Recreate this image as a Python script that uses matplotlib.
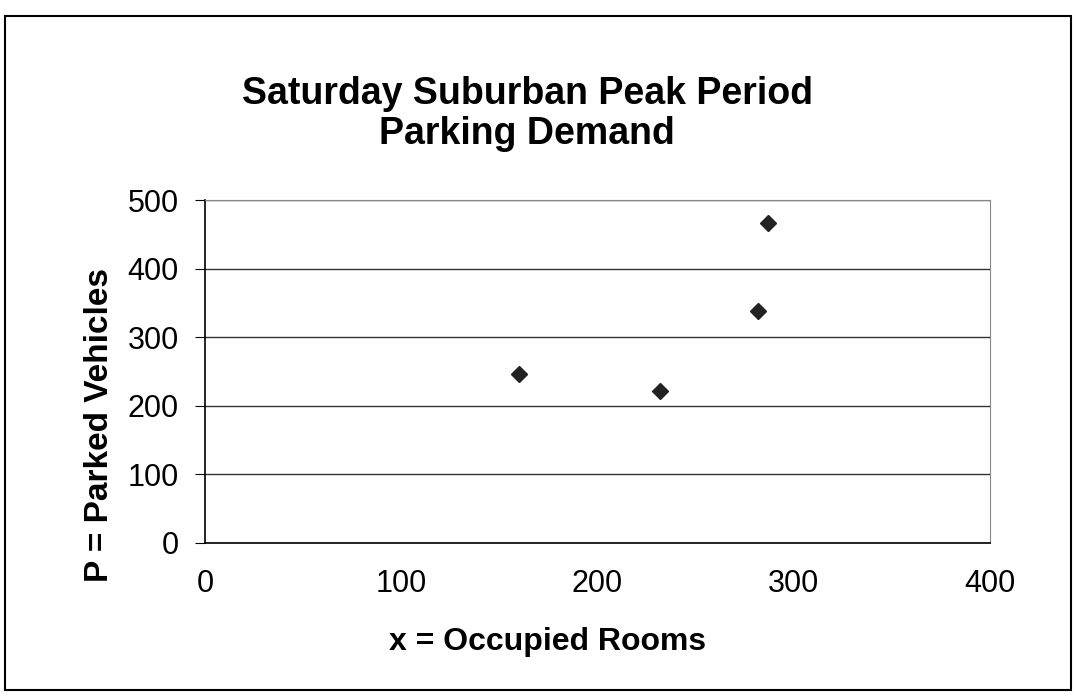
import matplotlib.pyplot as plt
from matplotlib.patches import Rectangle

# occupied rooms vs parked vehicles
rooms = [160, 232, 282, 287]
vehicles = [247, 222, 338, 466]

x_ticks = [0, 100, 200, 300, 400]
y_ticks = [0, 100, 200, 300, 400, 500]

plt.rcParams['font.family'] = ['Liberation Sans', 'DejaVu Sans']

W, H = 1076, 698
fig = plt.figure(figsize=(W / 100, H / 100), dpi=100)
ax = fig.add_axes([205 / W, 1 - 543 / H, (990 - 205) / W, (543 - 200) / H])

ax.plot(rooms, vehicles, "D", color="#222222", markersize=8, clip_on=False)

ax.set_xlim(0, 400)
ax.set_ylim(0, 500)
ax.set_xticks(x_ticks)
ax.set_yticks(y_ticks)
ax.tick_params(axis="x", labelsize=22, pad=19, length=0)
ax.tick_params(axis="y", labelsize=22, pad=12, length=7, direction="out")
ax.grid(axis="y", color="#333333", linewidth=1)
ax.set_axisbelow(True)
for s in ["top", "right"]:
    ax.spines[s].set_color("#888888")
    ax.spines[s].set_linewidth(0.8)
for s in ["left", "bottom"]:
    ax.spines[s].set_color("black")
    ax.spines[s].set_linewidth(1.2)

# axis titles placed like the original Excel chart
fig.text(548 / W, 1 - 642 / H, "x = Occupied Rooms", ha="center", va="center",
         fontsize=23, fontweight="bold")
fig.text(100 / W, 1 - 425 / H, "P = Parked Vehicles", ha="center", va="center",
         rotation=90, fontsize=24, fontweight="bold")
fig.text(527 / W, 1 - 114 / H, "Saturday Suburban Peak Period\nParking Demand",
         ha="center", va="center", fontsize=27, fontweight="bold", linespacing=1.15)

fig.patches.append(Rectangle((5 / W, 1 - 690 / H), (1071 - 5) / W, (690 - 16) / H,
                             transform=fig.transFigure, fill=False,
                             edgecolor="black", linewidth=1.5))

plt.savefig("out.png", dpi=100)
